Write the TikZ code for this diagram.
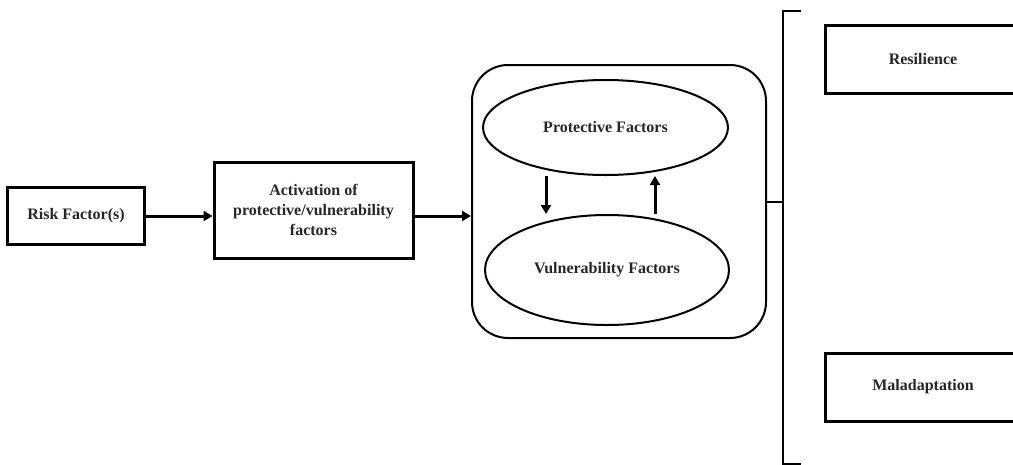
\documentclass[tikz,border=0pt]{standalone}
\usepackage{fontspec}
\setmainfont{Liberation Serif}
\usetikzlibrary{shapes.geometric,arrows.meta,calc}
\begin{document}
\begin{tikzpicture}[x=1pt,y=-1pt,
  every node/.style={font=\fontsize{16}{20}\selectfont\bfseries, text=black!85, align=center, inner sep=0pt},
  box/.style={draw, line width=3pt, rectangle},
  oval/.style={draw, line width=2pt, ellipse},
  group/.style={draw, line width=2pt, rectangle, rounded corners=36pt},
  flow/.style={line width=3pt, -{Triangle[length=9pt,width=10pt]}},
  link/.style={line width=2pt}]
\useasboundingbox (0,0) rectangle (1013,464);
\clip (0,0) rectangle (1013,464);

% left chain
\node[box, minimum width=137pt, minimum height=57pt] (risk) at (76,216) {Risk Factor(s)};
\node[box, minimum width=199pt, minimum height=96pt] (act) at (313.5,210)
  {Activation of\\protective/vulnerability\\factors};

% interacting factors
\node[group, minimum width=294pt, minimum height=273pt] (outer) at (619,201.5) {};
\node[oval, minimum width=245pt, minimum height=95pt] (prot) at (605.5,127.5) {Protective Factors};
\node[oval, minimum width=244pt, minimum height=110pt] (vuln) at (607,270) {Vulnerability Factors};

% outcomes
\node[box, minimum width=196pt, minimum height=68pt] (res) at (923,59) {Resilience};
\node[box, minimum width=196pt, minimum height=68pt] (mal) at (923,387) {Maladaptation};

\coordinate (brk) at (783,207);
\coordinate (dx) at (546,0);
\coordinate (ux) at (655,0);

\draw[flow] (risk.east) -- (risk.east -| act.west);
\draw[flow] (act.east |- risk.east) -- (outer.west |- risk.east);
\draw[flow] (dx |- prot.south) -- (dx |- vuln.north);
\draw[flow] (ux |- vuln.north) -- (ux |- prot.south);
\draw[link] (outer.east) -- (outer.east -| brk);
\draw[link] ($(brk |- res.north)+(18,-13)$) -- ($(brk |- res.north)+(0,-13)$) -- ($(brk |- mal.south)+(0,41)$) -- ($(brk |- mal.south)+(18,41)$);
\end{tikzpicture}
\end{document}
